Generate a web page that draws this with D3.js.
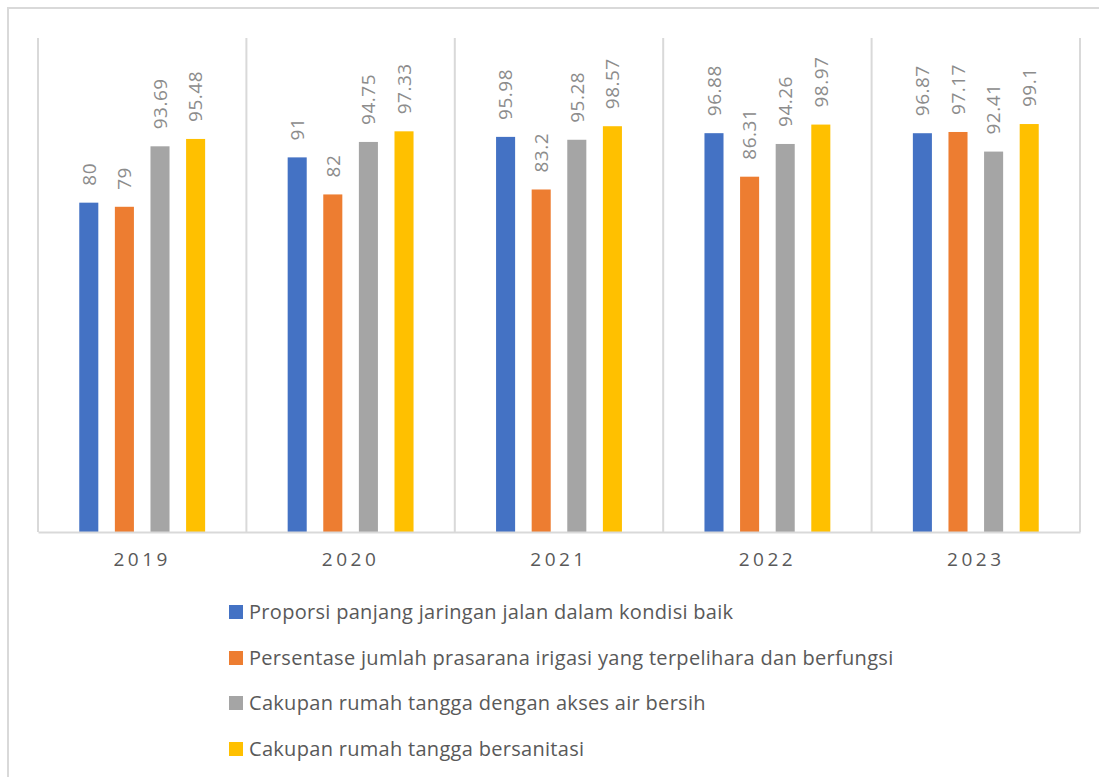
<!DOCTYPE html>
<html>
<head>
<meta charset="utf-8">
<script src="https://cdn.jsdelivr.net/npm/d3@7"></script>
<style>
  html, body { margin: 0; padding: 0; background: #fff; }
  svg { display: block; }
</style>
</head>
<body>
<svg id="chart" width="1099" height="777"></svg>
<script>
const years = ["2019", "2020", "2021", "2022", "2023"];
const seriesNames = [
  "Proporsi panjang jaringan jalan dalam kondisi baik",
  "Persentase jumlah prasarana irigasi yang terpelihara dan berfungsi",
  "Cakupan rumah tangga dengan akses air bersih",
  "Cakupan rumah tangga bersanitasi"
];
const jalan    = [80, 91, 95.98, 96.88, 96.87];
const irigasi  = [79, 82, 83.2, 86.31, 97.17];
const airBersih = [93.69, 94.75, 95.28, 94.26, 92.41];
const sanitasi = [95.48, 97.33, 98.57, 98.97, 99.1];
const labelsText = [
  ["80", "91", "95.98", "96.88", "96.87"],
  ["79", "82", "83.2", "86.31", "97.17"],
  ["93.69", "94.75", "95.28", "94.26", "92.41"],
  ["95.48", "97.33", "98.57", "98.97", "99.1"]
];
const colors = ["#4472C4", "#ED7D31", "#A5A5A5", "#FFC000"];

const seriesValues = [jalan, irigasi, airBersih, sanitasi];

const svg = d3.select("#chart");
const plot = { left: 38, right: 1080, top: 38, bottom: 532 };

// outer border
svg.append("rect")
  .attr("x", 8).attr("y", 8).attr("width", 1200).attr("height", 900)
  .attr("fill", "none").attr("stroke", "#d9d9d9").attr("stroke-width", 2);

const x0 = d3.scaleBand().domain(years).range([plot.left, plot.right]).padding(0);
const bw = x0.bandwidth();
const x1 = d3.scaleBand().domain(d3.range(4)).range([bw * 0.198, bw - bw * 0.198]).paddingInner(0.465);
const y = d3.scaleLinear().domain([0, 120]).range([plot.bottom, plot.top]);

// vertical category gridlines
const bounds = years.map(d => x0(d)).concat([plot.right]);
svg.append("g").selectAll("line").data(bounds).join("line")
  .attr("x1", d => d).attr("x2", d => d)
  .attr("y1", plot.top).attr("y2", plot.bottom)
  .attr("stroke", "#d9d9d9").attr("stroke-width", 2);

// bars
const groups = svg.append("g").selectAll("g").data(years).join("g")
  .attr("transform", d => `translate(${x0(d)},0)`);

groups.each(function(yr, yi) {
  const g = d3.select(this);
  seriesValues.forEach((vals, si) => {
    const v = vals[yi];
    g.append("rect")
      .attr("x", x1(si)).attr("width", x1.bandwidth())
      .attr("y", y(v)).attr("height", y(0) - y(v))
      .attr("fill", colors[si]);
    g.append("text")
      .attr("transform", `translate(${x1(si) + x1.bandwidth() / 2},${y(v) - 17}) rotate(-90)`)
      .attr("text-anchor", "start")
      .attr("dy", "0.36em")
      .attr("font-family", "Open Sans")
      .attr("font-size", 19)
      .attr("letter-spacing", 0.5)
      .attr("fill", "#8c8c8c")
      .text(labelsText[si][yi]);
  });
});

// baseline axis
const xAxis = d3.axisBottom(x0).tickSize(0).tickPadding(21);
const ax = svg.append("g").attr("transform", `translate(0,${plot.bottom})`).call(xAxis);
ax.select(".domain").attr("stroke", "#d9d9d9").attr("stroke-width", 2);
ax.selectAll("text")
  .attr("font-family", "Open Sans")
  .attr("font-size", 19)
  .attr("letter-spacing", 3.5)
  .attr("fill", "#595959");

// legend
const legend = svg.append("g");
const legY = [612, 658, 703, 749];
seriesNames.forEach((name, i) => {
  legend.append("rect")
    .attr("x", 229).attr("y", legY[i] - 7).attr("width", 14).attr("height", 14)
    .attr("fill", colors[i]);
  legend.append("text")
    .attr("x", 249).attr("y", legY[i]).attr("dy", "0.36em")
    .attr("font-family", "Open Sans")
    .attr("font-size", 20)
    .attr("letter-spacing", 0.3)
    .attr("fill", "#595959")
    .text(name);
});
</script>
</body>
</html>
